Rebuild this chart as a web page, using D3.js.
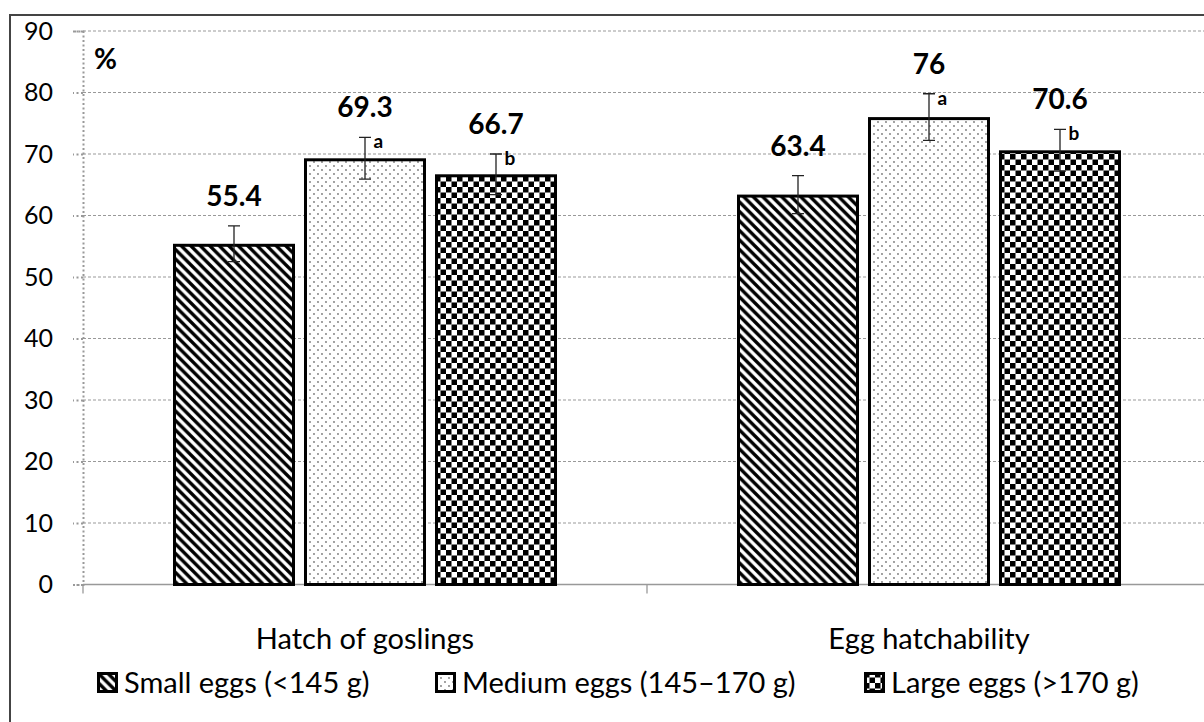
<!DOCTYPE html>
<html>
<head>
<meta charset="utf-8">
<script src="https://cdn.jsdelivr.net/npm/d3@7"></script>
<style>
  html, body { margin: 0; padding: 0; background: #fff; }
  svg { display: block; font-family: Lato, "Open Sans", sans-serif; }
</style>
</head>
<body>
<div id="chart"></div>
<script>
// --- data ---
const categories = ["Hatch of goslings", "Egg hatchability"];
const seriesNames = ["Small eggs (<145 g)", "Medium eggs (145\u2013170 g)", "Large eggs (>170 g)"];
const smallValues = [55.4, 63.4];
const mediumValues = [69.3, 76];
const largeValues = [66.7, 70.6];
const smallErrors = [2.9, 3.1];
const mediumErrors = [3.4, 3.8];
const largeErrors = [3.3, 3.4];
const mediumLetters = ["a", "a"];
const largeLetters = ["b", "b"];
const yTicks = [0, 10, 20, 30, 40, 50, 60, 70, 80, 90];

const W = 1204, H = 722;
const plot = { left: 83, right: 1211, top: 31, bottom: 584.5 };

const svg = d3.select("#chart").append("svg")
    .attr("width", W)
    .attr("height", H);

// patterns
const defs = svg.append("defs");

const pStripe = defs.append("pattern")
    .attr("id", "p-small")
    .attr("patternUnits", "userSpaceOnUse")
    .attr("width", 9.5).attr("height", 9.5);
pStripe.append("rect").attr("width", 9.5).attr("height", 9.5).attr("fill", "#fff");
pStripe.append("path")
    .attr("d", "M-2,-2 L11.5,11.5 M-2,7.5 L2,11.5 M7.5,-2 L11.5,2")
    .attr("stroke", "#000").attr("stroke-width", 3.4);

const pDots = defs.append("pattern")
    .attr("id", "p-medium")
    .attr("patternUnits", "userSpaceOnUse")
    .attr("width", 8).attr("height", 8);
pDots.append("rect").attr("width", 8).attr("height", 8).attr("fill", "#fff");
pDots.append("circle").attr("cx", 2).attr("cy", 2).attr("r", 0.9).attr("fill", "#777");
pDots.append("circle").attr("cx", 6).attr("cy", 6).attr("r", 0.9).attr("fill", "#777");

const pCheck = defs.append("pattern")
    .attr("id", "p-large")
    .attr("patternUnits", "userSpaceOnUse")
    .attr("width", 11).attr("height", 11);
pCheck.append("rect").attr("width", 11).attr("height", 11).attr("fill", "#fff");
pCheck.append("rect").attr("width", 5.5).attr("height", 5.5).attr("fill", "#000");
pCheck.append("rect").attr("x", 5.5).attr("y", 5.5).attr("width", 5.5).attr("height", 5.5).attr("fill", "#000");

const fills = ["url(#p-small)", "url(#p-medium)", "url(#p-large)"];

// outer frame (runs off the right and bottom of the picture)
svg.append("rect")
    .attr("x", 10).attr("y", 15)
    .attr("width", 1400).attr("height", 900)
    .attr("fill", "none")
    .attr("stroke", "#444")
    .attr("stroke-width", 2);

// scales
const y = d3.scaleLinear().domain([0, 90]).range([plot.bottom, plot.top]);

const x0 = d3.scaleBand()
    .domain(categories)
    .range([plot.left, plot.right])
    .padding(0);

const groupHalf = 192;
const x1 = d3.scaleBand()
    .domain(seriesNames)
    .range([x0.bandwidth() / 2 - groupHalf, x0.bandwidth() / 2 + groupHalf])
    .paddingInner(9 / 131)
    .paddingOuter(0);

// gridlines
svg.append("g")
    .selectAll("line")
    .data(yTicks.filter(d => d > 0))
    .join("line")
    .attr("x1", plot.left).attr("x2", W)
    .attr("y1", d => y(d)).attr("y2", d => y(d))
    .attr("stroke", "#999")
    .attr("stroke-width", 1)
    .attr("stroke-dasharray", "3,2");

// y axis (dotted)
const yAxis = svg.append("g")
    .attr("transform", `translate(${plot.left},0)`)
    .call(d3.axisLeft(y).tickValues(yTicks).tickSize(10).tickPadding(20));
yAxis.select(".domain")
    .attr("stroke", "#999")
    .attr("stroke-width", 2)
    .attr("stroke-dasharray", "2,2.5");
yAxis.selectAll(".tick line")
    .attr("stroke", "#999")
    .attr("stroke-width", 2)
    .attr("stroke-dasharray", "2,2.5");
yAxis.selectAll(".tick text")
    .attr("font-size", 25)
    .attr("fill", "#000")
    .attr("font-family", "Lato, sans-serif");

// x axis
svg.append("line")
    .attr("x1", plot.left).attr("x2", W)
    .attr("y1", y(0)).attr("y2", y(0))
    .attr("stroke", "#999").attr("stroke-width", 1.3);
svg.append("g")
    .selectAll("line")
    .data(categories)
    .join("line")
    .attr("x1", d => x0(d)).attr("x2", d => x0(d))
    .attr("y1", y(0)).attr("y2", y(0) + 9)
    .attr("stroke", "#999").attr("stroke-width", 1.3);

svg.append("g")
    .selectAll("text")
    .data(categories)
    .join("text")
    .attr("x", d => x0(d) + x0.bandwidth() / 2)
    .attr("y", 649)
    .attr("text-anchor", "middle")
    .attr("font-size", 29)
    .text(d => d);

// "%" unit label
svg.append("text")
    .attr("x", 94).attr("y", 69)
    .attr("font-size", 28)
    .attr("font-weight", "bold")
    .text("%");

// bars
const seriesValues = [smallValues, mediumValues, largeValues];
const seriesErrors = [smallErrors, mediumErrors, largeErrors];
const seriesLetters = [null, mediumLetters, largeLetters];

const rows = [];
categories.forEach((c, ci) => {
    seriesNames.forEach((s, si) => {
        rows.push({
            cat: c, series: s, si: si,
            value: seriesValues[si][ci],
            err: seriesErrors[si][ci],
            letter: seriesLetters[si] ? seriesLetters[si][ci] : null
        });
    });
});

const sw = 3;
const group = svg.append("g")
    .selectAll("g")
    .data(rows)
    .join("g")
    .attr("transform", d => `translate(${x0(d.cat) + x1(d.series)},0)`);

group.append("rect")
    .attr("x", sw / 2)
    .attr("y", d => y(d.value) + sw / 2)
    .attr("width", x1.bandwidth() - sw)
    .attr("height", d => y(0) - y(d.value) - sw / 2)
    .attr("fill", d => fills[d.si])
    .attr("stroke", "#000")
    .attr("stroke-width", sw);

// error bars
const cx = x1.bandwidth() / 2;
const cap = 6;
group.append("path")
    .attr("d", d => {
        const t = y(d.value + d.err), b = y(d.value - d.err);
        return `M${cx},${t} V${b} M${cx - cap},${t} H${cx + cap} M${cx - cap},${b} H${cx + cap}`;
    })
    .attr("fill", "none")
    .attr("stroke", "#222")
    .attr("stroke-width", 1.3);

// value labels
group.append("text")
    .attr("x", cx)
    .attr("y", d => y(d.value + d.err) - 20)
    .attr("text-anchor", "middle")
    .attr("font-size", 28)
    .attr("font-weight", "bold")
    .text(d => d.value);

// significance letters
group.filter(d => d.letter)
    .append("text")
    .attr("x", cx + 8.5)
    .attr("y", d => y(d.value + d.err) + 11)
    .attr("font-size", 19)
    .attr("font-weight", "bold")
    .text(d => d.letter);

// legend
const legendX = [97, 435, 864];
const legend = svg.append("g")
    .selectAll("g")
    .data(seriesNames)
    .join("g")
    .attr("transform", (d, i) => `translate(${legendX[i]},672)`);

legend.append("rect")
    .attr("x", 1.5).attr("y", 1.5)
    .attr("width", 18).attr("height", 18)
    .attr("fill", (d, i) => fills[i])
    .attr("stroke", "#000")
    .attr("stroke-width", 3);

legend.append("text")
    .attr("x", 27)
    .attr("y", 21)
    .attr("font-size", 29)
    .text(d => d);
</script>
</body>
</html>
